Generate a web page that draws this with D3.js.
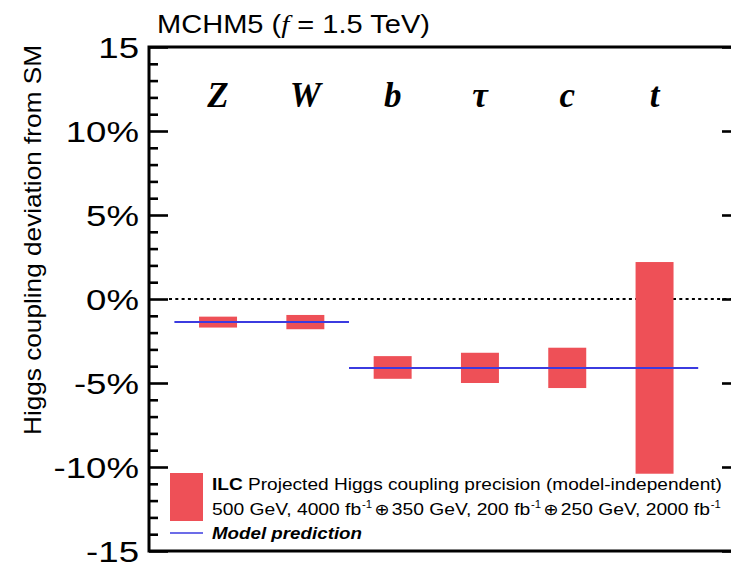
<!DOCTYPE html>
<html>
<head>
<meta charset="utf-8">
<script src="https://cdn.jsdelivr.net/npm/d3@7"></script>
<style>
  body { margin: 0; background: #fff; }
  svg { display: block; }
  text { font-family: "Liberation Sans", Arial, Helvetica, sans-serif; fill: #000; }
</style>
</head>
<body>
<svg id="chart" width="731" height="562"></svg>
<script>
// Higgs couplings and the projected ILC precision band (percent deviation from SM)
const couplings = ["Z", "W", "b", "τ", "c", "t"];
const precisionLow  = [-1.70, -1.80, -4.75, -5.00, -5.30, -10.40];
const precisionHigh = [-1.05, -0.95, -3.40, -3.20, -2.90, 2.20];

// MCHM5 model prediction: one value shared by each group of couplings
const predictionGroups = [["Z", "W"], ["b", "τ", "c", "t"]];
const predictionValues = [-1.37, -4.10];

// Vertical axis
const yMajorTicks = [15, 10, 5, 0, -5, -10, -15];
const yTickLabels = ["15", "10%", "5%", "0%", "-5%", "-10%", "-15"];
const yMinorTicks = [14,13,12,11,9,8,7,6,4,3,2,1,-1,-2,-3,-4,-6,-7,-8,-9,-11,-12,-13,-14];

const svg = d3.select("#chart");

const frame = { left: 149, right: 741, top: 47, bottom: 551 };
const binInset = 25.4;

const x = d3.scaleBand()
  .domain(couplings)
  .range([frame.left + binInset, frame.right - 42.8])
  .paddingInner(0.565)
  .paddingOuter(0.2825);

const y = d3.scaleLinear().domain([-15, 15]).range([frame.bottom, frame.top]);

const red = "#ee5057";
const blue = "#3b3be0";

// zero reference line
svg.append("line")
  .attr("x1", frame.left + 20).attr("x2", frame.right)
  .attr("y1", y(0)).attr("y2", y(0))
  .attr("stroke", "#000").attr("stroke-width", 2)
  .attr("stroke-dasharray", "3,3.3");

// precision bars
svg.append("g").selectAll("rect")
  .data(couplings)
  .join("rect")
  .attr("x", d => x(d))
  .attr("width", x.bandwidth())
  .attr("y", (d, i) => y(precisionHigh[i]))
  .attr("height", (d, i) => y(precisionLow[i]) - y(precisionHigh[i]))
  .attr("fill", red);

// model prediction segments
const halfGap = (x.step() - x.bandwidth()) / 2;
svg.append("g").selectAll("line")
  .data(predictionGroups)
  .join("line")
  .attr("x1", g => x(g[0]) - halfGap)
  .attr("x2", g => x(g[g.length - 1]) + x.bandwidth() + halfGap)
  .attr("y1", (g, i) => y(predictionValues[i]))
  .attr("y2", (g, i) => y(predictionValues[i]))
  .attr("stroke", blue).attr("stroke-width", 2);

// axis ticks (inward, on both sides)
const leftMajor = d3.axisLeft(y).tickValues(yMajorTicks).tickSize(-19).tickFormat("");
const leftMinor = d3.axisLeft(y).tickValues(yMinorTicks).tickSize(-9).tickFormat("");
const rightMajor = d3.axisRight(y).tickValues(yMajorTicks).tickSize(-19).tickFormat("");
const rightMinor = d3.axisRight(y).tickValues(yMinorTicks).tickSize(-9).tickFormat("");

function styleAxis(g) {
  g.select(".domain").remove();
  g.selectAll(".tick line").attr("stroke", "#000").attr("stroke-width", 2.6);
}
svg.append("g").attr("transform", `translate(${frame.left},0)`).call(leftMajor).call(styleAxis);
svg.append("g").attr("transform", `translate(${frame.left},0)`).call(leftMinor).call(styleAxis);
svg.append("g").attr("transform", `translate(${frame.right},0)`).call(rightMajor).call(styleAxis);
svg.append("g").attr("transform", `translate(${frame.right},0)`).call(rightMinor).call(styleAxis);

// frame
svg.append("rect")
  .attr("x", frame.left).attr("y", frame.top)
  .attr("width", frame.right - frame.left).attr("height", frame.bottom - frame.top)
  .attr("fill", "none").attr("stroke", "#000").attr("stroke-width", 3);

// y tick labels
svg.append("g").selectAll("text")
  .data(yMajorTicks)
  .join("text")
  .attr("transform", d => `translate(139,${y(d)}) scale(1.22,1)`)
  .attr("text-anchor", "end")
  .attr("dy", "0.36em")
  .attr("font-size", 30)
  .text((d, i) => yTickLabels[i]);

// y axis title
svg.append("text")
  .attr("transform", "translate(41,240) rotate(-90)")
  .attr("text-anchor", "middle")
  .attr("font-size", 24)
  .attr("textLength", 390).attr("lengthAdjust", "spacingAndGlyphs")
  .text("Higgs coupling deviation from SM");

// chart title
const title = svg.append("text")
  .attr("x", 157).attr("y", 33)
  .attr("font-size", 25)
  .attr("textLength", 273).attr("lengthAdjust", "spacingAndGlyphs");
title.append("tspan").text("MCHM5 (");
title.append("tspan").attr("font-family", "Liberation Serif, Times New Roman, serif")
  .attr("font-style", "italic").text("f");
title.append("tspan").text(" = 1.5 TeV)");

// coupling names
svg.append("g").selectAll("text")
  .data(couplings)
  .join("text")
  .attr("x", d => x(d) + x.bandwidth() / 2)
  .attr("y", 107)
  .attr("text-anchor", "middle")
  .attr("font-weight", "bold")
  .attr("font-style", "italic")
  .attr("font-size", 35)
  .style("font-family", "Liberation Serif, Times New Roman, serif")
  .text(d => d);

// legend
const legend = svg.append("g");
legend.append("rect")
  .attr("x", 170).attr("y", 473).attr("width", 33).attr("height", 48)
  .attr("fill", red);
legend.append("line")
  .attr("x1", 170).attr("x2", 203).attr("y1", 533).attr("y2", 533)
  .attr("stroke", blue).attr("stroke-width", 1.6);

const l1 = legend.append("text")
  .attr("x", 212).attr("y", 490).attr("font-size", 17)
  .attr("textLength", 510).attr("lengthAdjust", "spacingAndGlyphs");
l1.append("tspan").attr("font-weight", "bold").text("ILC");
l1.append("tspan").text(" Projected Higgs coupling precision (model-independent)");

// luminosity line: pieces with raised "-1" exponents joined by ⊕
const lumiBaseline = 515;
const l2 = legend.append("g");
const energies = ["500 GeV, 4000 fb", "350 GeV, 200 fb", "250 GeV, 2000 fb"];
let cursor = 212;
energies.forEach((s, i) => {
  const t = l2.append("text").attr("x", cursor).attr("y", lumiBaseline)
    .attr("font-size", 17).text(s);
  cursor += t.node().getComputedTextLength() + 0.5;
  const e = l2.append("text").attr("x", cursor).attr("y", lumiBaseline - 7)
    .attr("font-size", 10).text("-1");
  cursor += e.node().getComputedTextLength() + 2;
  if (i < energies.length - 1) {
    const o = l2.append("text").attr("x", cursor).attr("y", lumiBaseline)
      .attr("font-size", 16)
      .style("font-family", "DejaVu Sans, sans-serif")
      .text("⊕");
    cursor += o.node().getComputedTextLength() + 2;
  }
});
// stretch the whole line to its drawn width
const lumiWidth = cursor - 212;
l2.attr("transform", `translate(212,0) scale(${511 / lumiWidth},1) translate(-212,0)`);

legend.append("text")
  .attr("x", 212).attr("y", 539).attr("font-size", 17)
  .attr("font-weight", "bold").attr("font-style", "italic")
  .attr("textLength", 150).attr("lengthAdjust", "spacingAndGlyphs")
  .text("Model prediction");
</script>
</body>
</html>
